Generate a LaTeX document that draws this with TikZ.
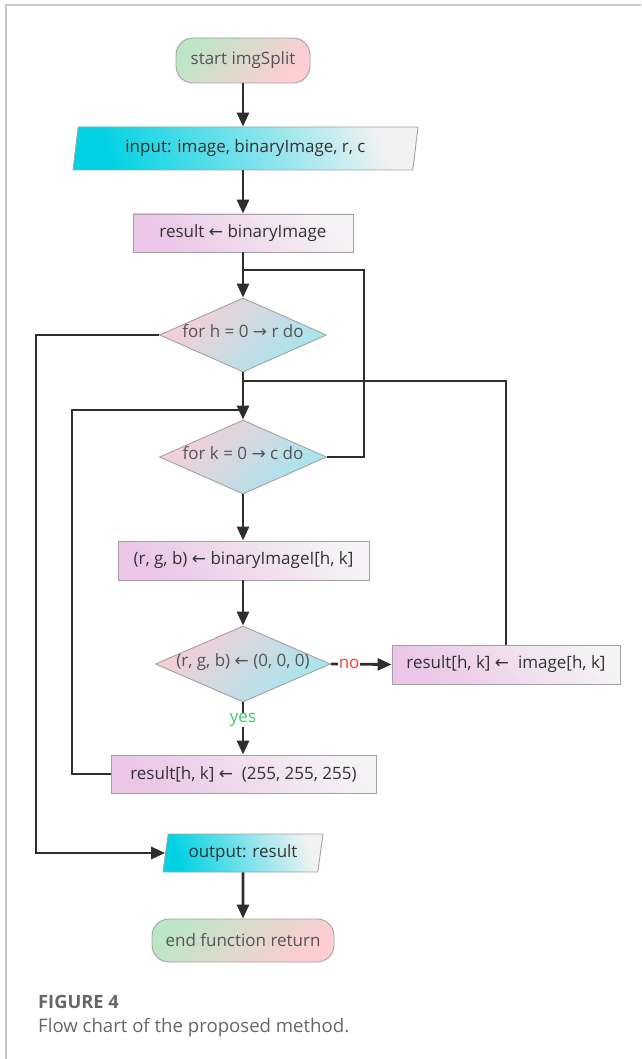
\documentclass[tikz,border=0pt]{standalone}
\usepackage{fontspec}
\setmainfont{Open Sans}
\newfontfamily\arr{DejaVu Sans}
\usetikzlibrary{shapes.geometric,arrows.meta}
\definecolor{tgreen}{HTML}{BDE6C6}
\definecolor{tpink}{HTML}{FFCDD2}
\definecolor{dpink}{HTML}{F9CDD6}
\definecolor{dcyan}{HTML}{A4E6EE}
\definecolor{plav}{HTML}{EBC6E7}
\definecolor{pwhite}{HTML}{F4F2F4}
\definecolor{iocyan}{HTML}{00D2E4}
\definecolor{iowhite}{HTML}{F2F2F2}
\definecolor{bordergray}{HTML}{A3A3A3}
\definecolor{linedark}{HTML}{2E2E2E}
\definecolor{txtdark}{HTML}{333333}
\definecolor{txtgray}{HTML}{555555}
\definecolor{noRed}{HTML}{FF3B3B}
\definecolor{yesGreen}{HTML}{3CCB6A}
\definecolor{capgray}{HTML}{666666}
\definecolor{panelgray}{HTML}{C8C8C8}
\begin{document}
\begin{tikzpicture}[x=1pt,y=-1pt,
  base/.style={draw=bordergray, line width=0.9pt, inner sep=0pt, font=\fontsize{17}{19}\selectfont},
  term/.style={base, rectangle, rounded corners=17pt, top color=tgreen, bottom color=tpink, shading angle=45, text=txtgray},
  proc/.style={base, rectangle, top color=pwhite, bottom color=plav, shading angle=-45, text=txtdark},
  dec/.style={base, diamond, aspect=2.3, text height=8pt, text depth=3pt, top color=dpink, bottom color=dcyan, shading angle=45, text=txtgray},
  io/.style={base, trapezium, trapezium left angle=73, trapezium right angle=107, trapezium stretches body, top color=iowhite, bottom color=iocyan, shading angle=-70, text=txtdark},
  conn/.style={draw=linedark, line width=2.8pt},
  arrowc/.style={conn, -{Triangle[length=14pt,width=12pt]}},
  lbl/.style={fill=white, inner sep=0.5pt, font=\fontsize{17}{19}\selectfont}
]
\useasboundingbox (0,0) rectangle (641,1059);
% panel border
\draw[panelgray, line width=1.5pt] (6,1059) -- (6,5) -- (641,5);

% nodes
\node[term, minimum width=134pt, minimum height=45pt] (start) at (243,60.5) {start imgSplit};
\node[io, minimum width=345pt, minimum height=43pt] (input) at (245.5,148.5) {input: image, binaryImage, r, c};
\node[proc, minimum width=220pt, minimum height=38pt] (init) at (243,233) {result {\arr ←} binaryImage};
\node[dec, minimum width=167pt, minimum height=74pt] (forh) at (243,335) {for h = 0 {\arr →} r do};
\node[dec, minimum width=167pt, minimum height=74pt] (fork) at (243,457) {for k = 0 {\arr →} c do};
\node[proc, minimum width=251pt, minimum height=39pt] (rgb) at (243.5,560.5) {(r, g, b) {\arr ←} binaryImageI[h, k]};
\node[dec, minimum width=175pt, minimum height=76pt] (cond) at (243,664) {(r, g, b) {\arr ←} (0, 0, 0)};
\node[proc, minimum width=228pt, minimum height=39pt] (img) at (506,664.5) {result[h, k] {\arr ←}\ \ image[h, k]};
\node[proc, minimum width=265pt, minimum height=38pt] (white) at (243.5,774) {result[h, k] {\arr ←}\ \ (255, 255, 255)};
\node[io, minimum width=160pt, minimum height=38pt] (out) at (243,853) {output: result};
\node[term, minimum width=182pt, minimum height=43pt] (end) at (243,940.5) {end function return};

% caption
\node[anchor=base west, inner sep=0pt, text=capgray, font=\fontsize{18.3}{21}\selectfont\bfseries] (fig) at (38,1008) {FIGURE 4};
\node[anchor=base west, inner sep=0pt, text=capgray, font=\fontsize{18.6}{21}\selectfont] (cap) at (38,1032) {Flow chart of the proposed method.};

% junction coordinates
\coordinate (jtop) at (243,270);
\coordinate (jmid) at (243,381);
\coordinate (jlow) at (243,410);

% connectors
\draw[arrowc] (start.south) -- (start.south |- input.north);
\draw[arrowc] (init.north |- input.south) -- (init.north);
\draw[arrowc] (init.south) -- (forh.north);
\draw[conn] (fork.east) -- ++(37,0) |- (jtop);
\draw[arrowc] (forh.west) -- ++(-123,0) |- (out.west);
\draw[arrowc] (forh.south) -- (fork.north);
\draw[conn] (img.north) |- (jmid);
\draw[conn] (white.west) -- ++(-38.5,0) |- (jlow);
\draw[arrowc] (fork.south) -- (fork.south |- rgb.north);
\draw[arrowc] (fork.south |- rgb.south) -- (cond.north);
\draw[arrowc] (cond.east) -- node[lbl, text=noRed, pos=0.3] {no} (img.west);
\draw[arrowc] (cond.south) -- node[lbl, text=yesGreen, pos=0.34] {yes} (cond.south |- white.north);
\draw[arrowc] (out.south) -- (end.north);
\end{tikzpicture}
\end{document}
